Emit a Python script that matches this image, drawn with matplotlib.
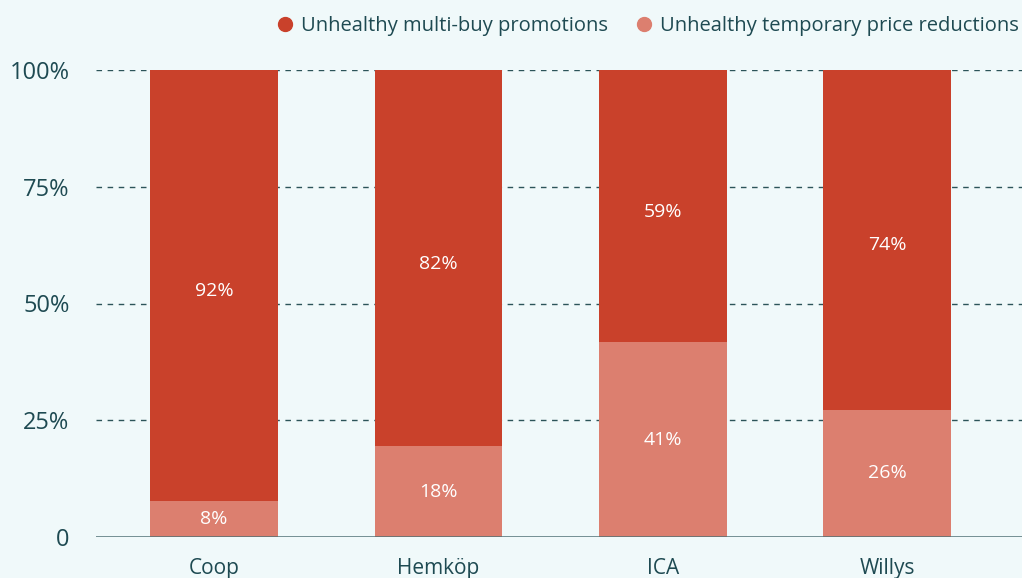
import matplotlib
matplotlib.use("Agg")
import matplotlib.pyplot as plt
from matplotlib.lines import Line2D

stores = ["Coop", "Hemköp", "ICA", "Willys"]
# bar heights as drawn (percent of total)
temp_price = [7.8, 19.4, 41.7, 27.3]
multi_buy = [92.2, 80.6, 58.3, 72.7]
# printed labels
temp_labels = ["8%", "18%", "41%", "26%"]
multi_labels = ["92%", "82%", "59%", "74%"]
yticks = [0, 25, 50, 75, 100]
ytick_labels = ["0", "25%", "50%", "75%", "100%"]
series_names = ["Unhealthy multi-buy promotions", "Unhealthy temporary price reductions"]

bg = "#F0F9FA"
dark = "#C9412B"
light = "#DC7F6F"
txt = "#1E4A52"

plt.rcParams['font.family'] = ['Open Sans', 'DejaVu Sans']

fig = plt.figure(figsize=(10.22, 5.78), dpi=100, facecolor=bg)
ax = fig.add_axes([96/1022, 1 - 537/578, 1 - 96/1022, (537 - 70)/578])
ax.set_facecolor(bg)

x = list(range(len(stores)))
w = 0.57
for yv in yticks[1:]:
    ax.axhline(yv, color="#2C5459", linestyle=(0, (4, 4)), linewidth=1.0, zorder=0)
ax.bar(x, temp_price, width=w, color=light, zorder=2)
ax.bar(x, multi_buy, width=w, bottom=temp_price, color=dark, zorder=2)
ax.axhline(0, color="#4F7175", linewidth=1.8, zorder=3)

for i in x:
    ax.text(i, temp_price[i] / 2, temp_labels[i], ha="center", va="center",
            color="white", fontsize=14, zorder=4)
    ax.text(i, temp_price[i] + multi_buy[i] / 2 - 1.2, multi_labels[i], ha="center", va="center",
            color="white", fontsize=14, zorder=4)

ax.set_xlim(-0.526, 3.60)
ax.set_ylim(0, 100)
ax.set_yticks(yticks)
ax.set_yticklabels(ytick_labels, fontsize=17, color=txt)
ax.set_xticks(x)
ax.set_xticklabels(stores, fontsize=15, color=txt)
ax.tick_params(axis="y", length=0, pad=19)
ax.tick_params(axis="x", length=0, pad=15)
for s in ax.spines.values():
    s.set_visible(False)

handles = [Line2D([0], [0], marker="o", linestyle="", markersize=10, color=dark),
           Line2D([0], [0], marker="o", linestyle="", markersize=10, color=light)]
leg = fig.legend(handles, series_names, loc="upper right", bbox_to_anchor=(1.015, 1.003), ncol=2,
                 frameon=False, fontsize=14.5, handletextpad=0.3, columnspacing=1.3,
                 handlelength=1.0)
for t in leg.get_texts():
    t.set_color(txt)

fig.savefig("out.png", dpi=100, facecolor=bg)
